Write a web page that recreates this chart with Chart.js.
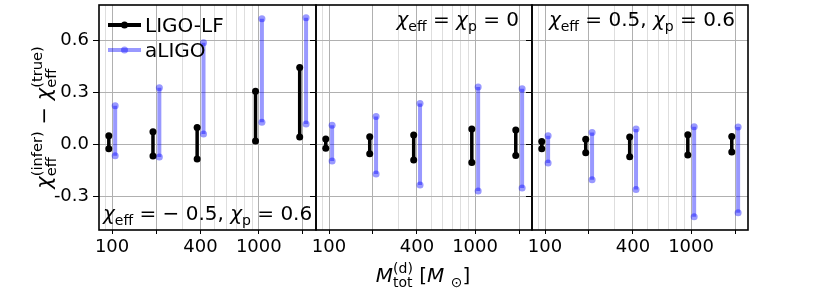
<!DOCTYPE html>
<html>
<head>
<meta charset="utf-8">
<script src="https://cdn.jsdelivr.net/npm/chart.js@4.4.1/dist/chart.umd.min.js"></script>
<style>
  html, body { margin: 0; padding: 0; background: #fff; }
  #wrap { position: relative; width: 830px; height: 297px; }
  #wrap canvas { position: absolute; left: 0; top: 0; }
</style>
</head>
<body>
<div id="wrap">
  <canvas id="p0" width="830" height="297"></canvas>
  <canvas id="p1" width="830" height="297"></canvas>
  <canvas id="p2" width="830" height="297"></canvas>
</div>
<script>
// total detector-frame masses
const masses = [100, 200, 400, 1000, 2000];

// chi_eff = -0.5, chi_p = 0.6
const lfLowNeg  = [-0.023, -0.065, -0.083, 0.021, 0.044];
const lfHighNeg = [0.052, 0.075, 0.100, 0.308, 0.446];
const alLowNeg  = [-0.063, -0.071, 0.062, 0.129, 0.119];
const alHighNeg = [0.225, 0.329, 0.588, 0.727, 0.733];

// chi_eff = chi_p = 0
const lfLowZero  = [-0.021, -0.052, -0.088, -0.102, -0.062];
const lfHighZero = [0.033, 0.046, 0.056, 0.090, 0.085];
const alLowZero  = [-0.094, -0.169, -0.233, -0.267, -0.250];
const alHighZero = [0.113, 0.163, 0.238, 0.333, 0.323];

// chi_eff = 0.5, chi_p = 0.6
const lfLowPos  = [-0.023, -0.046, -0.069, -0.060, -0.042];
const lfHighPos = [0.019, 0.031, 0.044, 0.058, 0.048];
const alLowPos  = [-0.106, -0.202, -0.258, -0.415, -0.392];
const alHighPos = [0.052, 0.071, 0.090, 0.104, 0.102];

const yTicks = [-0.3, 0, 0.3, 0.6];
const xMajor = [100, 200, 400, 1000, 2000];
const xMinor = [90, 300, 500, 600, 700, 800, 900];
const xLabelled = [100, 400, 1000];

const FAM = '"DejaVu Sans"';

// draw text with italic / sub / sup pieces (matplotlib mathtext look)
function drawRich(ctx, segs, x, y, size, align) {
    const font = (s, it) => (it ? 'oblique ' : '') + s + 'px ' + FAM;
    const small = size * 0.7;
    const widths = segs.map(s => {
        if (s.t === undefined) {
            ctx.font = font(small, false);
            const a = s.sub ? ctx.measureText(s.sub).width : 0;
            const b = s.sup ? ctx.measureText(s.sup).width : 0;
            return Math.max(a, b);
        }
        ctx.font = font(size, s.it);
        return ctx.measureText(s.t).width;
    });
    const total = widths.reduce((a, b) => a + b, 0);
    let cx = align === 'center' ? x - total / 2 : align === 'right' ? x - total : x;
    ctx.textAlign = 'left';
    ctx.textBaseline = 'alphabetic';
    segs.forEach((s, i) => {
        if (s.t !== undefined) {
            ctx.font = font(size, s.it);
            ctx.fillText(s.t, cx, y);
        } else {
            ctx.font = font(small, false);
            if (s.sub) ctx.fillText(s.sub, cx, y + size * 0.24);
            if (s.sup) ctx.fillText(s.sup, cx, y - size * 0.45);
        }
        cx += widths[i];
    });
}

const panelText = [
    [{t: 'χ', it: true}, {sub: 'eff'}, {t: ' = − 0.5, '}, {t: 'χ', it: true}, {sub: 'p'}, {t: ' = 0.6'}],
    [{t: 'χ', it: true}, {sub: 'eff'}, {t: ' = '}, {t: 'χ', it: true}, {sub: 'p'}, {t: ' = 0'}],
    [{t: 'χ', it: true}, {sub: 'eff'}, {t: ' = 0.5, '}, {t: 'χ', it: true}, {sub: 'p'}, {t: ' = 0.6'}]
];

function decor(k) {
    return {
        id: 'decor' + k,
        afterDraw(chart) {
            const ctx = chart.ctx, a = chart.chartArea;
            ctx.save();
            ctx.strokeStyle = '#000';
            ctx.lineWidth = 1.6;
            ctx.strokeRect(a.left, a.top, a.right - a.left, a.bottom - a.top);
            ctx.fillStyle = '#000';
            if (k === 0) {
                drawRich(ctx, panelText[0], a.left + 4, a.bottom - 10, 20, 'left');
                // legend
                const rows = [
                    {label: 'LIGO-LF', color: '#000', y: a.top + 20},
                    {label: 'aLIGO', color: 'rgba(0,0,255,0.4)', y: a.top + 45}
                ];
                rows.forEach(r => {
                    ctx.strokeStyle = r.color;
                    ctx.lineWidth = 4;
                    ctx.beginPath();
                    ctx.moveTo(a.left + 9, r.y);
                    ctx.lineTo(a.left + 42, r.y);
                    ctx.stroke();
                    ctx.fillStyle = r.color;
                    ctx.beginPath();
                    ctx.arc(a.left + 25.5, r.y, 3.5, 0, Math.PI * 2);
                    ctx.fill();
                    ctx.fillStyle = '#000';
                    ctx.font = '20px ' + FAM;
                    ctx.textAlign = 'left';
                    ctx.textBaseline = 'alphabetic';
                    ctx.fillText(r.label, a.left + 46, r.y + 7.3);
                });
                // y axis title
                ctx.save();
                ctx.translate(51, (a.top + a.bottom) / 2);
                ctx.rotate(-Math.PI / 2);
                drawRich(ctx, [{t: 'χ', it: true}, {sub: 'eff', sup: '(infer)'}, {t: ' − '},
                               {t: 'χ', it: true}, {sub: 'eff', sup: '(true)'}], 0, 0, 21, 'center');
                ctx.restore();
                // x axis title
                drawRich(ctx, [{t: 'M', it: true}, {sub: 'tot', sup: '(d)'}, {t: ' ['},
                               {t: 'M', it: true}, {t: ' '}, {sub: '⊙'}, {t: ']'}], 423, 282, 20, 'center');
            } else {
                drawRich(ctx, panelText[k], a.right - 13, a.top + 21, 20, 'right');
            }
            ctx.restore();
        }
    };
}

function errBars(lo, hi, f) {
    const pts = [];
    masses.forEach((m, i) => {
        pts.push({x: m * f, y: lo[i]}, {x: m * f, y: hi[i]}, {x: m * f, y: null});
    });
    return pts;
}

function makePanel(id, k, left, right, lfLo, lfHi, alLo, alHi) {
    const first = k === 0;
    const yW = first ? left : 10;
    const isMajor = c => c.tick && xMajor.includes(c.tick.value);
    new Chart(document.getElementById(id), {
        type: 'line',
        data: {
            datasets: [
                {
                    label: 'LIGO-LF',
                    data: errBars(lfLo, lfHi, 0.95),
                    borderColor: '#000',
                    borderWidth: 3.5,
                    pointRadius: 3.5,
                    pointBorderWidth: 0,
                    pointBackgroundColor: '#000',
                    spanGaps: false
                },
                {
                    label: 'aLIGO',
                    data: errBars(alLo, alHi, 1.05),
                    borderColor: 'rgba(0,0,255,0.4)',
                    borderWidth: 4,
                    pointRadius: 3.5,
                    pointBorderWidth: 0,
                    pointBackgroundColor: 'rgba(0,0,255,0.4)',
                    spanGaps: false
                }
            ]
        },
        options: {
            responsive: false,
            animation: false,
            events: [],
            layout: {
                autoPadding: false,
                padding: {left: left - yW, right: 830 - right, top: 5, bottom: 0}
            },
            plugins: {legend: {display: false}, tooltip: {enabled: false}},
            scales: {
                x: {
                    type: 'logarithmic',
                    bounds: 'data',
                    min: 81.45,
                    max: 2454,
                    afterBuildTicks: s => {
                        s.ticks = xMinor.concat(xMajor).sort((p, q) => p - q).map(v => ({value: v}));
                    },
                    afterFit: s => { s.height = 67; s.paddingLeft = 0; s.paddingRight = 0; },
                    ticks: {
                        autoSkip: false,
                        maxRotation: 0,
                        padding: 3,
                        color: '#000',
                        font: {family: 'DejaVu Sans', size: 18},
                        callback: v => xLabelled.includes(v) ? String(v) : ''
                    },
                    grid: {
                        color: c => isMajor(c) ? '#b0b0b0' : '#dedede',
                        lineWidth: 1,
                        tickColor: c => isMajor(c) ? '#000' : 'rgba(0,0,0,0)',
                        tickLength: 4
                    },
                    border: {display: false}
                },
                y: {
                    bounds: 'data',
                    min: -0.492,
                    max: 0.806,
                    afterBuildTicks: s => { s.ticks = yTicks.map(v => ({value: v})); },
                    afterFit: s => { s.width = yW; s.paddingTop = 0; s.paddingBottom = 0; },
                    ticks: {
                        display: first,
                        padding: 4,
                        color: '#000',
                        font: {family: 'DejaVu Sans', size: 18},
                        callback: v => v.toFixed(1)
                    },
                    grid: {color: '#b0b0b0', lineWidth: 1, tickColor: '#000', tickLength: 6},
                    border: {display: false}
                }
            }
        },
        plugins: [decor(k)]
    });
}

makePanel('p0', 0, 99, 316, lfLowNeg, lfHighNeg, alLowNeg, alHighNeg);
makePanel('p1', 1, 316, 532, lfLowZero, lfHighZero, alLowZero, alHighZero);
makePanel('p2', 2, 532, 748, lfLowPos, lfHighPos, alLowPos, alHighPos);
</script>
</body>
</html>
